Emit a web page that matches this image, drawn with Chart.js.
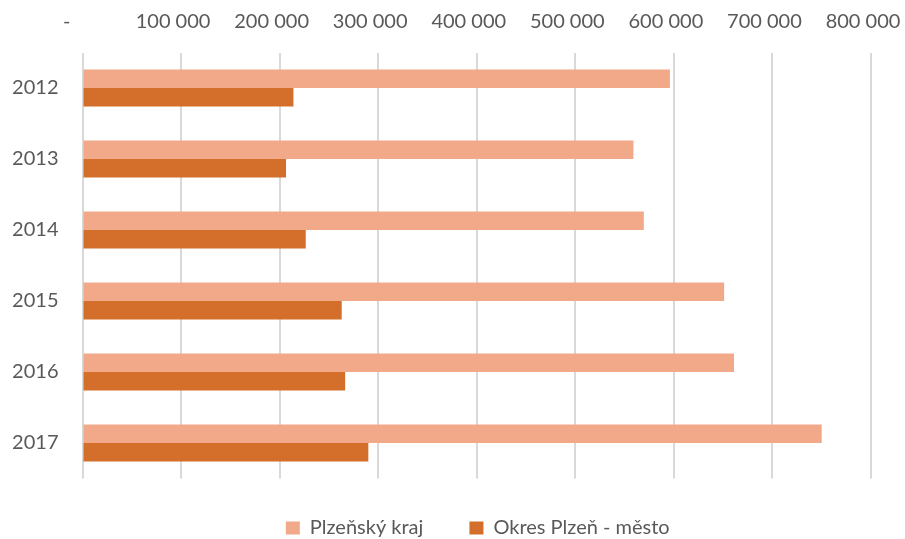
<!DOCTYPE html>
<html>
<head>
<meta charset="utf-8">
<script src="https://cdn.jsdelivr.net/npm/chart.js@4"></script>
<style>
  html, body { margin: 0; padding: 0; background: #fff; }
  #wrap { width: 905px; height: 539px; }
</style>
</head>
<body>
<div id="wrap"><canvas id="chart"></canvas></div>
<script>
// data
const years = ['2012', '2013', '2014', '2015', '2016', '2017'];
const krajValues = [596000, 559000, 569500, 651000, 661000, 750000];
const okresValues = [214000, 206500, 226500, 263000, 266500, 290000];
const seriesNames = ['Plzeňský kraj', 'Okres Plzeň - město'];
const xTicks = [0, 100000, 200000, 300000, 400000, 500000, 600000, 700000, 800000];

const textColor = '#595959';
const gridColor = '#D9D9D9';
const fontFamily = 'Lato, sans-serif';

function fmt(v) {
    if (v === 0) return '-   ';
    return String(v).replace(/\B(?=(\d{3})+(?!\d))/g, ' ');
}

// nudge the legend to where Excel puts it
const legendNudge = {
    id: 'legendNudge',
    afterLayout(chart) {
        const lg = chart.legend;
        if (!lg) return;
        const dx = 19, dy = 39.5;
        lg.left += dx; lg.right += dx;
        lg.top += dy; lg.bottom += dy;
    }
};

new Chart(document.getElementById('chart'), {
    type: 'bar',
    data: {
        labels: years,
        datasets: [{
            label: seriesNames[0],
            data: krajValues,
            backgroundColor: '#F1A98A',
            categoryPercentage: 0.52,
            barPercentage: 1
        }, {
            label: seriesNames[1],
            data: okresValues,
            backgroundColor: '#D36F2B',
            categoryPercentage: 0.52,
            barPercentage: 1
        }]
    },
    plugins: [legendNudge],
    options: {
        indexAxis: 'y',
        responsive: true,
        maintainAspectRatio: false,
        animation: false,
        layout: {
            padding: { left: 12.5, right: 0, top: 0, bottom: 30.5 }
        },
        plugins: {
            legend: {
                position: 'bottom',
                labels: {
                    color: textColor,
                    font: { family: fontFamily, size: 20 },
                    boxWidth: 14,
                    boxHeight: 13,
                    padding: 0,
                    generateLabels: function(chart) {
                        const items = Chart.defaults.plugins.legend.labels.generateLabels(chart);
                        items.forEach(function(it, i) {
                            if (i < items.length - 1) it.text = it.text + '         ';
                        });
                        return items;
                    }
                }
            },
            tooltip: { enabled: false }
        },
        scales: {
            x: {
                position: 'top',
                min: 0,
                max: 800000,
                afterBuildTicks: function(axis) {
                    axis.ticks = xTicks.map(function(v) { return { value: v }; });
                },
                afterFit: function(axis) {
                    axis.height = 52.5;
                    axis.paddingLeft = 0;
                    axis.paddingRight = 34;
                },
                grid: { color: gridColor, lineWidth: 2, drawTicks: false },
                border: { display: false },
                ticks: {
                    color: textColor,
                    font: { family: fontFamily, size: 20 },
                    padding: 19,
                    labelOffset: -8,
                    maxRotation: 0,
                    callback: function(value) { return fmt(value); }
                }
            },
            y: {
                afterFit: function(axis) { axis.width = 70; },
                grid: { display: false, drawTicks: false },
                border: { display: false },
                ticks: {
                    color: textColor,
                    font: { family: fontFamily, size: 20 },
                    padding: 24
                }
            }
        }
    }
});
</script>
</body>
</html>
